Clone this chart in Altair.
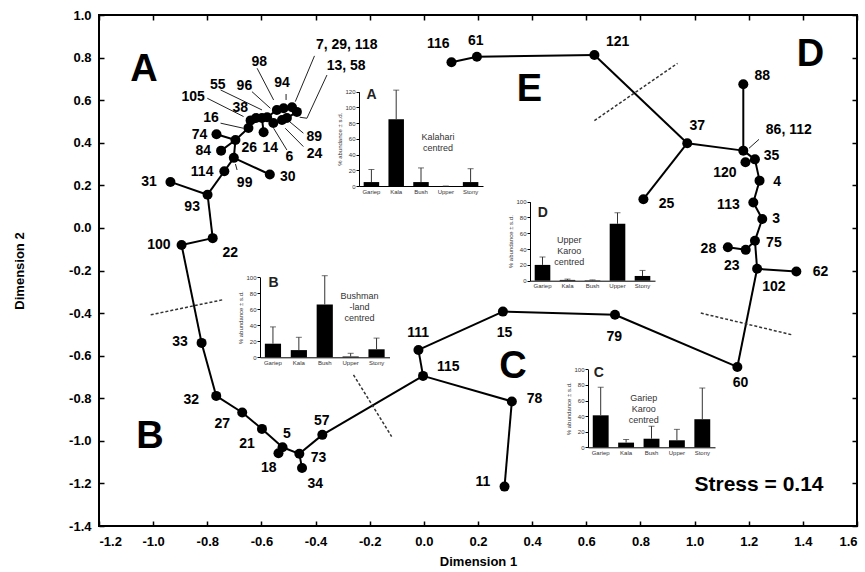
import altair as alt
import pandas as pd

# ---------------- MDS ordination data ----------------
site_names = ["116", "61", "121", "37", "25", "86", "88", "120", "35", "4", "113", "3", "75", "23", "28",
              "102", "62", "60", "79", "15", "111", "115", "78", "11", "57", "73", "34", "5", "18", "21",
              "27", "32", "33", "100", "22", "93", "31", "114", "99", "30", "84", "74", "26", "14", "16",
              "105", "38", "55", "96", "98", "6", "24", "89", "94", "7", "13"]
dim1 = [0.102, 0.196, 0.630, 0.973, 0.811, 1.180, 1.180, 1.188, 1.223, 1.240, 1.217, 1.250, 1.223, 1.189, 1.123,
        1.231, 1.376, 1.158, 0.706, 0.292, -0.020, -0.003, 0.325, 0.298, -0.375, -0.460, -0.450, -0.522, -0.537, -0.598,
        -0.671, -0.767, -0.821, -0.895, -0.780, -0.799, -0.936, -0.737, -0.702, -0.569, -0.749, -0.766, -0.696, -0.592, -0.648,
        -0.640, -0.620, -0.598, -0.579, -0.543, -0.556, -0.524, -0.506, -0.518, -0.487, -0.469]
dim2 = [0.778, 0.804, 0.812, 0.398, 0.135, 0.363, 0.675, 0.308, 0.322, 0.222, 0.119, 0.042, -0.060, -0.103, -0.091,
        -0.192, -0.205, -0.653, -0.408, -0.393, -0.573, -0.695, -0.815, -1.215, -0.972, -1.061, -1.128, -1.030, -1.058, -0.944,
        -0.867, -0.789, -0.540, -0.080, -0.048, 0.156, 0.216, 0.266, 0.329, 0.251, 0.363, 0.440, 0.413, 0.449, 0.469,
        0.505, 0.516, 0.516, 0.520, 0.554, 0.493, 0.507, 0.516, 0.562, 0.567, 0.545]
site_labels = ["116", "61", "121", "37", "25", "86, 112", "88", "120", "35", "4", "113", "3", "75", "23", "28",
               "102", "62", "60", "79", "15", "111", "115", "78", "11", "57", "73", "34", "5", "18", "21",
               "27", "32", "33", "100", "22", "93", "31", "114", "99", "30", "84", "74", "26", "14", "16",
               "105", "38", "55", "96", "98", "6", "24", "89", "94", "7, 29, 118", "13, 58"]
label_x = [0.053, 0.192, 0.716, 1.010, 0.896, 1.348, 1.250, 1.112, 1.284, 1.305, 1.125, 1.301, 1.293, 1.137, 1.051,
           1.293, 1.465, 1.170, 0.703, 0.298, -0.021, 0.090, 0.409, 0.218, -0.377, -0.389, -0.401, -0.506, -0.573, -0.653,
           -0.745, -0.859, -0.901, -0.979, -0.715, -0.856, -1.015, -0.819, -0.662, -0.503, -0.815, -0.829, -0.645, -0.567, -0.786,
           -0.852, -0.678, -0.761, -0.663, -0.608, -0.497, -0.404, -0.405, -0.524, -0.285, -0.287]
label_y = [0.862, 0.878, 0.875, 0.479, 0.111, 0.460, 0.714, 0.257, 0.338, 0.217, 0.108, 0.041, -0.072, -0.178, -0.099,
           -0.278, -0.208, -0.729, -0.510, -0.492, -0.492, -0.654, -0.803, -1.191, -0.905, -1.081, -1.203, -0.969, -1.128, -1.016,
           -0.922, -0.808, -0.538, -0.080, -0.119, 0.100, 0.217, 0.264, 0.210, 0.241, 0.363, 0.437, 0.374, 0.374, 0.515,
           0.616, 0.562, 0.671, 0.668, 0.781, 0.335, 0.347, 0.429, 0.679, 0.859, 0.761]

# minimum spanning tree links
links = [("116", "61"), ("61", "121"), ("121", "37"), ("37", "25"), ("37", "86"), ("86", "88"), ("86", "35"),
         ("35", "120"), ("35", "4"), ("4", "113"), ("113", "3"), ("3", "75"), ("75", "23"), ("23", "28"),
         ("75", "102"), ("102", "62"), ("102", "60"), ("60", "79"), ("79", "15"), ("15", "111"), ("111", "115"),
         ("115", "78"), ("78", "11"), ("115", "57"), ("57", "73"), ("73", "34"), ("73", "5"), ("5", "18"),
         ("5", "21"), ("21", "27"), ("27", "32"), ("32", "33"), ("33", "100"), ("100", "22"), ("22", "93"),
         ("93", "31"), ("93", "114"), ("114", "99"), ("99", "30"), ("99", "26"), ("26", "84"), ("26", "74"),
         ("26", "16"), ("16", "105"), ("105", "38"), ("38", "55"), ("55", "96"), ("55", "14"), ("96", "6"),
         ("96", "98"), ("98", "94"), ("94", "7"), ("7", "13"), ("13", "89"), ("89", "24")]

# leader lines from crowded labels (label end -> point)
leader_x1 = [-0.404, -0.358, -0.432, -0.616, -0.509, -0.635, -0.751, -0.800, -0.751, -0.445, -0.445, -0.506, -0.690, 1.238]
leader_y1 = [0.808, 0.718, 0.515, 0.750, 0.629, 0.640, 0.648, 0.609, 0.492, 0.445, 0.382, 0.366, 0.272, 0.416]
leader_x2 = [-0.475, -0.432, -0.459, -0.555, -0.509, -0.567, -0.598, -0.666, -0.666, -0.496, -0.512, -0.555, -0.696, 1.201]
leader_y2 = [0.593, 0.515, 0.520, 0.601, 0.601, 0.562, 0.554, 0.523, 0.468, 0.499, 0.468, 0.468, 0.300, 0.374]

# dashed group boundaries
bound_x1 = [0.630, 1.023, -1.009, -0.260]
bound_y1 = [0.504, -0.400, -0.408, -0.690]
bound_x2 = [0.937, 1.360, -0.745, -0.119]
bound_y2 = [0.773, -0.502, -0.338, -0.980]

# group letters
group_text = ["A", "B", "C", "D", "E"]
group_x = [-1.034, -1.012, 0.329, 1.428, 0.390]
group_y = [0.742, -0.980, -0.651, 0.812, 0.648]

# inset annotations
inset_letter = ["A", "B", "C", "D"]
inset_letter_x = [-0.193, -0.555, 0.646, 0.439]
inset_letter_y = [0.624, -0.257, -0.682, 0.072]
inset_note = ["Kalahari\ncentred", "Bushman\n-land\ncentred", "Gariep\nKaroo\ncentred", "Upper\nKaroo\ncentred"]
inset_note_x = [0.052, -0.238, 0.812, 0.537]
inset_note_y = [0.427, -0.319, -0.798, -0.059]

# inset bar chart data (% abundance, mean and s.d.)
regions = ["Gariep", "Kala", "Bush", "Upper", "Stony"]
A_mean = [5, 85, 5, 0, 5]
A_sd = [16, 37, 18, 0, 17]
B_mean = [17, 9, 66, 1, 10]
B_sd = [21, 16, 36, 4, 14]
C_mean = [41, 6, 11, 9, 36]
C_sd = [36, 4, 16, 14, 40]
D_mean = [20, 1, 0.5, 72, 6]
D_sd = [10, 1, 0.5, 14, 7]

x_ticks = [-1.2, -1.0, -0.8, -0.6, -0.4, -0.2, 0.0, 0.2, 0.4, 0.6, 0.8, 1.0, 1.2, 1.4, 1.6]
y_ticks = [-1.4, -1.2, -1.0, -0.8, -0.6, -0.4, -0.2, 0.0, 0.2, 0.4, 0.6, 0.8, 1.0]
ticks_120 = [0, 20, 40, 60, 80, 100, 120]
ticks_100 = [0, 20, 40, 60, 80, 100]

# ---------------- layout ----------------
W, H = 758, 511
FONT = "Liberation Sans"

pts = pd.DataFrame({"name": site_names, "x": dim1, "y": dim2})
pos = {n: (a, b) for n, a, b in zip(site_names, dim1, dim2)}
link_df = pd.DataFrame([{"x": pos[a][0], "y": pos[a][1], "x2": pos[b][0], "y2": pos[b][1]} for a, b in links])
lab_df = pd.DataFrame({"text": site_labels, "x": label_x, "y": label_y})
lead_df = pd.DataFrame({"x": leader_x1, "y": leader_y1, "x2": leader_x2, "y2": leader_y2})
bound_df = pd.DataFrame({"x": bound_x1, "y": bound_y1, "x2": bound_x2, "y2": bound_y2})
grp_df = pd.DataFrame({"text": group_text, "x": group_x, "y": group_y})
il_df = pd.DataFrame({"text": inset_letter, "x": inset_letter_x, "y": inset_letter_y})
note_df = pd.DataFrame({"text": inset_note, "x": inset_note_x, "y": inset_note_y})
stress_df = pd.DataFrame({"text": ["Stress = 0.14"], "x": [1.238], "y": [-1.207]})

xs = alt.Scale(domain=[-1.2, 1.6], nice=False, zero=False)
ys = alt.Scale(domain=[-1.4, 1.0], nice=False, zero=False)
lab_expr = "(datum.value < 0 ? '-' : '') + format(abs(datum.value), '.1f')"

x_axis = alt.Axis(title="Dimension 1", values=x_ticks, labelExpr=lab_expr, ticks=False, domain=False, grid=False,
                  labelFont=FONT, labelFontSize=13, labelFontWeight="bold", labelColor="black", labelPadding=9,
                  titleFont=FONT, titleFontSize=13, titleFontWeight="bold", titleColor="black", titlePadding=7)
y_axis = alt.Axis(title="Dimension 2", values=y_ticks, labelExpr=lab_expr, ticks=False, domain=False, grid=False,
                  labelFont=FONT, labelFontSize=13, labelFontWeight="bold", labelColor="black", labelPadding=8,
                  titleFont=FONT, titleFontSize=13, titleFontWeight="bold", titleColor="black", titlePadding=42)


def XQ(field="x", axis=None):
    return alt.X(f"{field}:Q", scale=xs, axis=axis)


def YQ(field="y", axis=None):
    return alt.Y(f"{field}:Q", scale=ys, axis=axis)


link_layer = alt.Chart(link_df).mark_rule(color="black", strokeWidth=2).encode(
    x=XQ(axis=x_axis), y=YQ(axis=y_axis), x2="x2:Q", y2="y2:Q")
lead_layer = alt.Chart(lead_df).mark_rule(color="#222", strokeWidth=1).encode(
    x=XQ(), y=YQ(), x2="x2:Q", y2="y2:Q")
bound_layer = alt.Chart(bound_df).mark_rule(color="#333", strokeWidth=1.5, strokeDash=[3, 2]).encode(
    x=XQ(), y=YQ(), x2="x2:Q", y2="y2:Q")
point_layer = alt.Chart(pts).mark_circle(size=100, color="black", opacity=1).encode(x=XQ(), y=YQ())
label_layer = alt.Chart(lab_df).mark_text(font=FONT, fontSize=14, fontWeight="bold", color="black").encode(
    x=XQ(), y=YQ(), text="text:N")
group_layer = alt.Chart(grp_df).mark_text(font=FONT, fontSize=38, fontWeight="bold", color="black").encode(
    x=XQ(), y=YQ(), text="text:N")
il_layer = alt.Chart(il_df).mark_text(font=FONT, fontSize=14, fontWeight="bold", color="#222").encode(
    x=XQ(), y=YQ(), text="text:N")
note_layer = alt.Chart(note_df).mark_text(font=FONT, fontSize=9, color="#333", lineBreak="\n", lineHeight=11).encode(
    x=XQ(), y=YQ(), text="text:N")
stress_layer = alt.Chart(stress_df).mark_text(font=FONT, fontSize=21, fontWeight="bold", color="black").encode(
    x=XQ(), y=YQ(), text="text:N")


def tick_axis(orient, values):
    return alt.Axis(orient=orient, offset=-5, tickSize=5, tickWidth=1.5, tickColor="black", labels=False,
                    domain=False, grid=False, title=None, values=values)


ticks_lb = alt.Chart(pts).mark_point(opacity=0).encode(
    x=XQ(axis=tick_axis("bottom", x_ticks)), y=YQ(axis=tick_axis("left", y_ticks)))
ticks_tr = alt.Chart(pts).mark_point(opacity=0).encode(
    x=XQ(axis=tick_axis("top", x_ticks)), y=YQ(axis=tick_axis("right", y_ticks)))


def inset(mean, sd, xr, yr, ydom, yvals):
    df = pd.DataFrame({"cat": regions, "mean": mean, "hi": [m + s for m, s in zip(mean, sd)]})
    xsc = alt.Scale(domain=regions, range=xr, paddingInner=0.375, paddingOuter=0.1875)
    ysc = alt.Scale(domain=ydom, range=yr, nice=False, zero=True)
    xax = alt.Axis(orient="bottom", offset=yr[0] - H, ticks=False, labelAngle=0, labelFont=FONT, labelFontSize=6,
                   labelColor="#333", labelPadding=2, domainColor="black", domainWidth=1, title=None, grid=False)
    yax = alt.Axis(orient="left", offset=-xr[0], values=yvals, tickSize=3, tickColor="black", labelFont=FONT,
                   labelFontSize=6, labelColor="#333", labelPadding=1, domainColor="black", domainWidth=1,
                   title="% abundance ± s.d.", titleFont=FONT, titleFontSize=6, titleFontWeight="normal",
                   titleColor="#333", titlePadding=2, grid=False)
    bars = alt.Chart(df).mark_bar(color="black").encode(
        x=alt.X("cat:N", scale=xsc, axis=xax, sort=None), y=alt.Y("mean:Q", scale=ysc, axis=yax))
    err = alt.Chart(df).mark_rule(color="#333", strokeWidth=1).encode(
        x=alt.X("cat:N", scale=xsc, axis=None, sort=None), y=alt.Y("mean:Q", scale=ysc, axis=None), y2="hi:Q")
    caps = alt.Chart(df).mark_tick(color="#333", thickness=1, size=6).encode(
        x=alt.X("cat:N", scale=xsc, axis=None, sort=None), y=alt.Y("hi:Q", scale=ysc, axis=None))
    return [bars, err, caps]


inset_layers = (inset(A_mean, A_sd, [260, 384], [171, 76.7], [0, 120], ticks_120)
                + inset(B_mean, B_sd, [161, 290.5], [342.3, 262.3], [0, 100], ticks_100)
                + inset(C_mean, C_sd, [489, 616], [432.3, 354.3], [0, 100], ticks_100)
                + inset(D_mean, D_sd, [431, 556], [265.7, 186.7], [0, 100], ticks_100))

layers = [link_layer, bound_layer, lead_layer, point_layer, label_layer, group_layer, il_layer,
          note_layer, stress_layer, ticks_lb, ticks_tr] + inset_layers

chart = alt.layer(*layers).resolve_scale(
    x="independent", y="independent"
).properties(
    width=W, height=H,
    autosize=alt.AutoSizeParams(type="none"),
    padding={"left": 99, "top": 15, "right": 8, "bottom": 46},
    background="white",
).configure_view(stroke="black", strokeWidth=2)

chart.save("out.html", embed_options={"renderer": "svg", "actions": False})
